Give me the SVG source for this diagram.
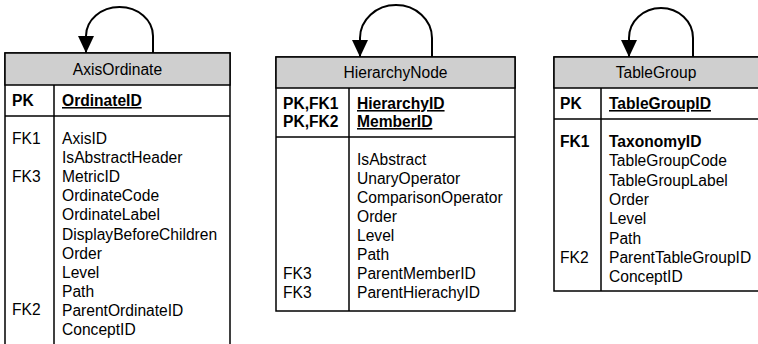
<svg xmlns="http://www.w3.org/2000/svg" width="758" height="344" viewBox="0 0 758 344">
  <style>
    .box { fill: #ffffff; stroke: #000000; stroke-width: 1.5; }
    .head { fill: #cfcfcf; stroke: #000000; stroke-width: 1.5; }
    .rule { stroke: #000000; stroke-width: 1.5; fill: none; }
    text { font-family: "Liberation Sans", Arial, sans-serif; font-size: 15.6px; fill: #000000; }
    .title { text-anchor: middle; }
    .key { font-weight: bold; }
    .pk { font-weight: bold; text-decoration: underline; }
    .loop { fill: none; stroke: #000000; stroke-width: 2; }
  </style>
  <defs>
    <marker id="arrow" viewBox="0 0 17 16" refX="17" refY="8" markerWidth="17" markerHeight="16" markerUnits="userSpaceOnUse" orient="auto">
      <path d="M0,0 L17,8 L0,16 Z" fill="#000000"/>
    </marker>
  </defs>

  <!-- self-referencing relationships -->
  <g id="connectors">
    <path class="loop" d="M153,53 V36 A33.5,29 0 0 0 86,36 V53" marker-end="url(#arrow)"/>
    <path class="loop" d="M432,57 V38 A36,33 0 0 0 360,38 V57" marker-end="url(#arrow)"/>
    <path class="loop" d="M693,57 V38 A32,30 0 0 0 629,38 V57" marker-end="url(#arrow)"/>
  </g>

  <!-- AxisOrdinate table -->
  <g id="AxisOrdinate">
    <rect class="box" x="5" y="53" width="225" height="300"/>
    <rect class="head" x="5" y="53" width="225" height="32"/>
    <line class="rule" x1="5" y1="116" x2="230" y2="116"/>
    <line class="rule" x1="54" y1="85" x2="54" y2="350"/>
    <text class="title" x="117.5" y="75">AxisOrdinate</text>
    <text class="key" x="12" y="106">PK</text>
    <text class="pk" x="62" y="106">OrdinateID</text>
    <text x="12" y="144">FK1</text>
    <text x="12" y="182.2">FK3</text>
    <text x="12" y="315">FK2</text>
    <text x="62" y="144">AxisID</text>
    <text x="62" y="163.1">IsAbstractHeader</text>
    <text x="62" y="182.2">MetricID</text>
    <text x="62" y="201.3">OrdinateCode</text>
    <text x="62" y="220.4">OrdinateLabel</text>
    <text x="62" y="239.5">DisplayBeforeChildren</text>
    <text x="62" y="258.6">Order</text>
    <text x="62" y="277.7">Level</text>
    <text x="62" y="296.8">Path</text>
    <text x="62" y="315.9">ParentOrdinateID</text>
    <text x="62" y="335">ConceptID</text>
  </g>

  <!-- HierarchyNode table -->
  <g id="HierarchyNode">
    <rect class="box" x="276" y="57" width="239" height="254"/>
    <rect class="head" x="276" y="57" width="239" height="31"/>
    <line class="rule" x1="276" y1="137" x2="515" y2="137"/>
    <line class="rule" x1="349" y1="88" x2="349" y2="311"/>
    <text class="title" x="395.5" y="78">HierarchyNode</text>
    <text class="key" x="283" y="109">PK,FK1</text>
    <text class="key" x="283" y="127">PK,FK2</text>
    <text class="pk" x="357" y="109">HierarchyID</text>
    <text class="pk" x="357" y="127">MemberID</text>
    <text x="357" y="165">IsAbstract</text>
    <text x="357" y="184">UnaryOperator</text>
    <text x="357" y="203">ComparisonOperator</text>
    <text x="357" y="222">Order</text>
    <text x="357" y="241">Level</text>
    <text x="357" y="260">Path</text>
    <text x="283" y="279">FK3</text>
    <text x="357" y="279">ParentMemberID</text>
    <text x="283" y="298">FK3</text>
    <text x="357" y="298">ParentHierachyID</text>
  </g>

  <!-- TableGroup table -->
  <g id="TableGroup">
    <rect class="box" x="554" y="57" width="210" height="234"/>
    <rect class="head" x="554" y="57" width="210" height="31"/>
    <line class="rule" x1="554" y1="119" x2="764" y2="119"/>
    <line class="rule" x1="601" y1="88" x2="601" y2="291"/>
    <text class="title" x="656" y="78">TableGroup</text>
    <text class="key" x="560" y="109">PK</text>
    <text class="pk" x="609" y="109">TableGroupID</text>
    <text class="key" x="560" y="147">FK1</text>
    <text class="key" x="609" y="147">TaxonomyID</text>
    <text x="609" y="166.3">TableGroupCode</text>
    <text x="609" y="185.6">TableGroupLabel</text>
    <text x="609" y="204.9">Order</text>
    <text x="609" y="224.2">Level</text>
    <text x="609" y="243.5">Path</text>
    <text x="560" y="262.8">FK2</text>
    <text x="609" y="262.8">ParentTableGroupID</text>
    <text x="609" y="282.1">ConceptID</text>
  </g>
</svg>
